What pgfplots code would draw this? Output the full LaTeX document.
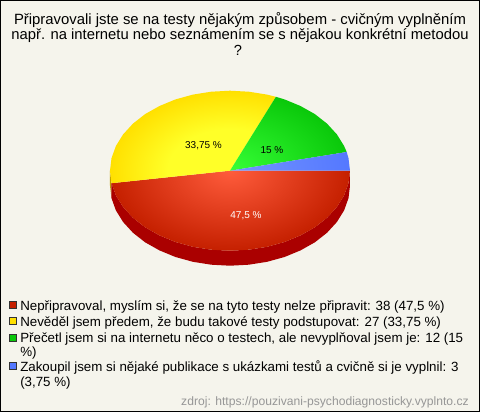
\documentclass[border=0pt]{standalone}
\usepackage{pgfplots}
\usepackage{fontspec}
\setmainfont{Liberation Sans}
\pgfplotsset{compat=1.18}
\definecolor{bgc}{RGB}{245,244,236}
\definecolor{srcc}{RGB}{150,150,150}
\definecolor{redc}{RGB}{197,32,0}
\definecolor{redl}{RGB}{255,92,60}
\definecolor{yelc}{RGB}{255,224,0}
\definecolor{yell}{RGB}{255,255,40}
\definecolor{grec}{RGB}{10,200,10}
\definecolor{grel}{RGB}{54,255,54}
\definecolor{bluc}{RGB}{84,120,255}
\definecolor{blul}{RGB}{116,148,255}
\definecolor{redd}{RGB}{170,0,0}
\definecolor{yeld}{RGB}{190,160,0}
\pgfdeclareradialshading{redpie}{\pgfpointorigin}{color(0bp)=(redl); color(25bp)=(redc); color(50bp)=(redc)}
\pgfdeclareradialshading{yelpie}{\pgfpointorigin}{color(0bp)=(yell); color(13bp)=(yell); color(25bp)=(yelc); color(50bp)=(yelc)}
\pgfdeclareradialshading{grepie}{\pgfpointorigin}{color(0bp)=(grel); color(25bp)=(grec); color(50bp)=(grec)}
\pgfdeclareradialshading{blupie}{\pgfpointorigin}{color(0bp)=(blul); color(25bp)=(bluc); color(50bp)=(bluc)}
\newcommand{\fs}[1]{\fontsize{#1}{#1}\selectfont}
\begin{document}
\begin{tikzpicture}
\begin{axis}[
  scale only axis, width=360pt, height=309pt,
  xmin=0, xmax=480, ymin=0, ymax=412, y dir=reverse,
  xtick=\empty, ytick=\empty,
  axis line style={draw=none},
  axis background/.style={fill=bgc},
  unbounded coords=jump,
  clip=false,
]
% frame
\addplot[black, line width=0.75pt] coordinates {(0.5,0.5) (479.5,0.5) (479.5,411.5) (0.5,411.5) (0.5,0.5)};
% sides
\addplot[draw=none, fill=yeld] coordinates {(110,170.7) (111.5,183.2) (111.5,198.2) (110,185.7) (110,170.7)};
\addplot[draw=none, fill=redd] coordinates {
(111.5,183.2) (115.9,195.4) (123.1,207.0) (132.9,217.7) (145.1,227.3) (159.5,235.4) (175.5,242.0) (192.9,246.8) (211.2,249.7) (230,250.7) (248.8,249.7) (267.1,246.8) (284.5,242.0) (300.5,235.4) (314.9,227.3) (327.1,217.7) (336.9,207.0) (344.1,195.4) (348.5,183.2) (350,170.7)
(350,185.7) (348.5,198.2) (344.1,210.4) (336.9,222.0) (327.1,232.7) (314.9,242.3) (300.5,250.4) (284.5,257.0) (267.1,261.8) (248.8,264.7) (230,265.7) (211.2,264.7) (192.9,261.8) (175.5,257.0) (159.5,250.4) (145.1,242.3) (132.9,232.7) (123.1,222.0) (115.9,210.4) (111.5,198.2) (111.5,183.2)};
% top: red 47.5 %
\addplot[draw=none, shade, shading=redpie] coordinates {(110,90.7) (nan,nan) (350,250.7) (nan,nan)
(230,170.7) (111.5,183.2) (115.9,195.4) (123.1,207.0) (132.9,217.7) (145.1,227.3) (159.5,235.4) (175.5,242.0) (192.9,246.8) (211.2,249.7) (230,250.7) (248.8,249.7) (267.1,246.8) (284.5,242.0) (300.5,235.4) (314.9,227.3) (327.1,217.7) (336.9,207.0) (344.1,195.4) (348.5,183.2) (350,170.7) (230,170.7)};
% yellow 33.75 %
\addplot[draw=none, shade, shading=yelpie] coordinates {(110,90.7) (nan,nan) (350,250.7) (nan,nan)
(230,170.7) (275.9,96.8) (267.1,94.6) (248.8,91.7) (230,90.7) (211.2,91.7) (192.9,94.6) (175.5,99.4) (159.5,106.0) (145.1,114.1) (132.9,123.7) (123.1,134.4) (115.9,146.0) (111.5,158.2) (110,170.7) (111.5,183.2) (230,170.7)};
% green 15 %
\addplot[draw=none, shade, shading=grepie] coordinates {(110,90.7) (nan,nan) (350,250.7) (nan,nan)
(230,170.7) (346.7,152.0) (344.1,146.0) (336.9,134.4) (327.1,123.7) (314.9,114.1) (300.5,106.0) (284.5,99.4) (275.9,96.8) (230,170.7)};
% blue 3.75 %
\addplot[draw=none, shade, shading=blupie] coordinates {(110,90.7) (nan,nan) (350,250.7) (nan,nan)
(230,170.7) (350,170.7) (348.5,158.2) (346.7,152.0) (230,170.7)};
% legend keys
\addplot[only marks, mark=square*, mark size=2.7pt, mark options={fill=redc, draw=black!80, line width=0.5pt}] coordinates {(13,304.7)};
\addplot[only marks, mark=square*, mark size=2.7pt, mark options={fill=yelc, draw=black!80, line width=0.5pt}] coordinates {(13,321)};
\addplot[only marks, mark=square*, mark size=2.7pt, mark options={fill=grec, draw=black!80, line width=0.5pt}] coordinates {(13,337.5)};
\addplot[only marks, mark=square*, mark size=2.7pt, mark options={fill=bluc, draw=black!80, line width=0.5pt}] coordinates {(13,366)};
% title
\node[anchor=base, inner sep=0, font=\fs{11.15pt}] at (axis cs:240,24) {Připravovali jste se na testy nějakým způsobem - cvičným vyplněním};
\node[anchor=base, inner sep=0, font=\fs{11.1pt}] at (axis cs:240,39.5) {např. na internetu nebo seznámením se s nějakou konkrétní metodou};
\node[anchor=base, inner sep=0, font=\fs{11pt}] at (axis cs:238,55.5) {?};
% labels
\node[inner sep=0, font=\fs{7.5pt}] at (axis cs:203.5,145.3) {33,75 \%};
\node[inner sep=0, font=\fs{7.5pt}] at (axis cs:272,150) {15 \%};
\node[inner sep=0, font=\fs{7.5pt}, text=white] at (axis cs:246,216) {47,5 \%};
% legend text
\node[anchor=base west, inner sep=0, font=\fs{10pt}] at (axis cs:20,310) {Nepřipravoval, myslím si, že se na tyto testy nelze připravit: 38 (47,5 \%)};
\node[anchor=base west, inner sep=0, font=\fs{10pt}] at (axis cs:20,326) {Nevěděl jsem předem, že budu takové testy podstupovat: 27 (33,75 \%)};
\node[anchor=base west, inner sep=0, font=\fs{10pt}] at (axis cs:20,342) {Přečetl jsem si na internetu něco o testech, ale nevyplňoval jsem je: 12 (15};
\node[anchor=base west, inner sep=0, font=\fs{10pt}] at (axis cs:20,356.7) {\%)};
\node[anchor=base west, inner sep=0, font=\fs{10pt}] at (axis cs:20,371.7) {Zakoupil jsem si nějaké publikace s ukázkami testů a cvičně si je vyplnil: 3};
\node[anchor=base west, inner sep=0, font=\fs{10pt}] at (axis cs:20,386) {(3,75 \%)};
\node[anchor=base east, inner sep=0, font=\fs{9.1pt}, text=srcc] at (axis cs:469,405) {zdroj: https://pouzivani-psychodiagnosticky.vyplnto.cz};
\end{axis}
\end{tikzpicture}
\end{document}
